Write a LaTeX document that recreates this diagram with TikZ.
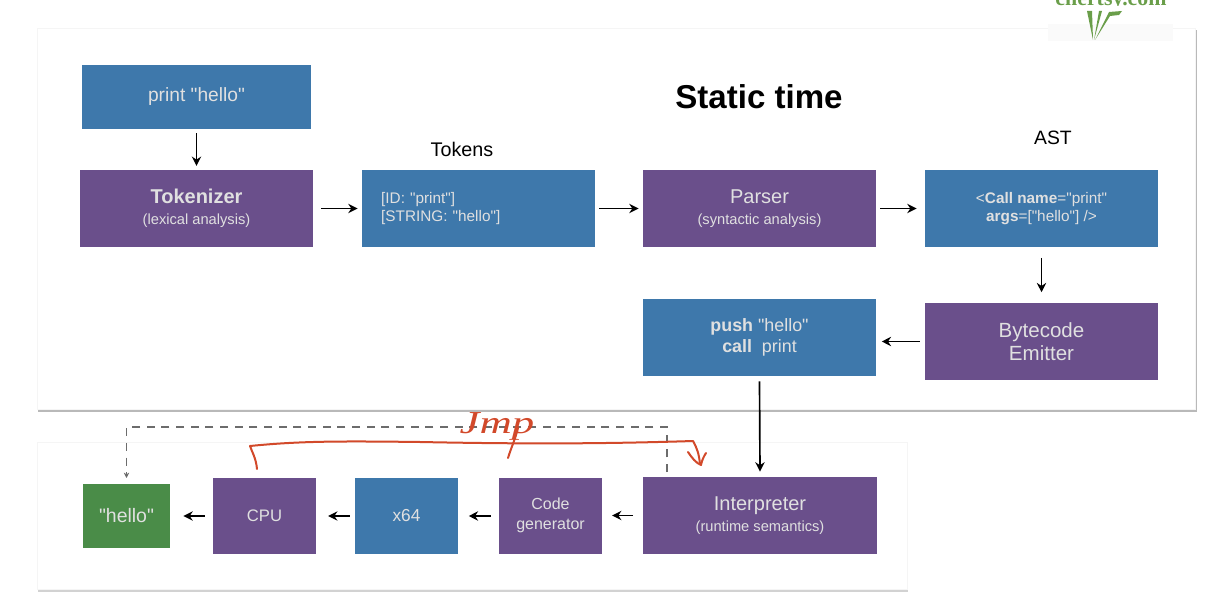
\documentclass[tikz,border=0pt]{standalone}
\usepackage{fontspec}
\setmainfont{Liberation Sans}
\usetikzlibrary{arrows.meta}
\definecolor{boxblue}{HTML}{3E78AB}
\definecolor{boxpurple}{HTML}{6A4F8B}
\definecolor{boxgreen}{HTML}{4A8C48}
\definecolor{jmpred}{HTML}{D2492A}
\definecolor{logogreen}{HTML}{6A9E4A}
\tikzstyle{box}=[inner sep=0pt,align=center,text=white!88!black]
\tikzstyle{widebox}=[box,minimum width=175pt,minimum height=57.5pt]
\tikzstyle{smallbox}=[box,minimum width=77pt,minimum height=57pt]
\tikzstyle{titled}=[font=\fontsize{15}{15.5}\selectfont]
\tikzstyle{listing}=[font=\fontsize{11.5}{13.5}\selectfont]
\tikzstyle{flow}=[-{Stealth[length=7pt,width=7pt]},line width=1.25pt,black]
\tikzstyle{dashback}=[-{Stealth[length=4pt,width=4pt]},line width=0.8pt,gray!85!black,dash pattern=on 6pt off 5pt]
\tikzstyle{pen}=[jmpred,line width=1.5pt,line cap=round,line join=round]
\newcommand{\subtext}[1]{{\fontsize{11}{13}\selectfont #1}}
\newcommand{\dq}{\XeTeXglyph\XeTeXcharglyph34\relax}

\begin{document}
\begin{tikzpicture}[x=0.75pt,y=-0.75pt]
    \useasboundingbox (0,0) rectangle (1211,610);

    % panels
    \fill[gray!55] (38,30) rectangle (1196.5,411.5);
    \fill[gray!35] (38,444) rectangle (908,591.5);
    \fill[white,draw=gray!8,line width=0.4pt] (37,28) rectangle (1195,409);
    \fill[white,draw=gray!8,line width=0.4pt] (37,442) rectangle (907,589);

    % logo
    \fill[gray!4] (1048,24) rectangle (1173,41);
    \begin{scope}
        \clip (1040,0) rectangle (1180,6);
        \node (logo) at (1111,0) {\textcolor{logogreen}{\fontspec{Liberation Serif}\bfseries\fontsize{16.4}{18}\selectfont chertsy.com}};
    \end{scope}
    \fill[logogreen] (1087,11) -- (1092,11) -- (1093,40) -- cycle;
    \fill[logogreen] (1094,40) -- (1099,11) -- (1102,11) -- cycle;
    \fill[logogreen] (1095,40) -- (1109,12) -- (1122,11) -- (1119,15) -- (1110,16) -- cycle;

    \node (title) at (759,97) {\bfseries\fontsize{24.8}{28}\selectfont Static time};
    \node (tokenslabel) at (462,149) {\fontsize{14.8}{17}\selectfont Tokens};
    \node (astlabel) at (1053,138) {\fontsize{14.5}{17}\selectfont AST};

    \node (source)[widebox,fill=boxblue,minimum width=171.75pt,minimum height=48pt,font=\fontsize{14.4}{17}\selectfont] at (196.5,97) {print \dq hello\dq};
    \node (tokenizer)[widebox,titled,fill=boxpurple] at (196.5,208.5) {\textbf{Tokenizer}\\ \subtext{(lexical analysis)}};
    \node (tokens)[widebox,listing,fill=boxblue,text width=146pt,align=left] at (478.5,208.5) {{[ID: \dq print\dq]}\\ {[STRING: \dq hello\dq]}};
    \node (parser)[widebox,titled,fill=boxpurple] at (759.5,208.5) {Parser\\ \subtext{(syntactic analysis)}};
    \node (ast)[widebox,listing,fill=boxblue] at (1041.5,208.5) {<\textbf{Call} \textbf{name}=\dq print\dq\\ \textbf{args}=[\dq hello\dq] />};
    \node (emitter)[widebox,fill=boxpurple,font=\fontsize{15.4}{17.5}\selectfont] at (1041.5,341.5) {Bytecode\\ Emitter};
    \node (bytecode)[widebox,fill=boxblue,font=\fontsize{13.4}{15.5}\selectfont] at (759.5,337.5) {\textbf{push} \dq hello\dq\\ \textbf{call}\ \ print};
    \node (interp)[widebox,titled,fill=boxpurple] at (760,515.5) {Interpreter\\ \subtext{(runtime semantics)}};
    \node (codegen)[smallbox,fill=boxpurple,font=\fontsize{12}{14.5}\selectfont] at (550.5,515.5) {Code\\ generator};
    \node (x64)[smallbox,fill=boxblue,font=\fontsize{13}{15}\selectfont] at (406.5,516) {x64};
    \node (cpu)[smallbox,fill=boxpurple,font=\fontsize{12.5}{15}\selectfont] at (264.5,516) {CPU};
    \node (hello)[box,fill=boxgreen,minimum width=65pt,minimum height=48pt,font=\fontsize{14.6}{17}\selectfont] at (126.5,516) {\dq hello\dq};

    \draw[flow] ([yshift=-3pt]source.south) -- ([yshift=3pt]tokenizer.north);
    \draw[flow] ([xshift=6pt]tokenizer.east) -- ([xshift=-3pt]tokens.west);
    \draw[flow] ([xshift=3pt]tokens.east) -- ([xshift=-3pt]parser.west);
    \draw[flow] ([xshift=3pt]parser.east) -- ([xshift=-6pt]ast.west);
    \draw[flow] ([yshift=-8pt]ast.south) -- ([yshift=8pt]emitter.north);
    \draw[flow] ([xshift=-3.5pt]emitter.west) -- ([xshift=4pt]emitter.west -| bytecode.east);
    \draw[flow] ([yshift=-4pt]bytecode.south) -- ([yshift=4pt]interp.north);
    \draw[flow] ([xshift=-7.5pt]interp.west) -- ([xshift=7.5pt]codegen.east);
    \draw[flow] ([xshift=-6pt]codegen.west |- x64.east) -- ([xshift=8pt]x64.east);
    \draw[flow] ([xshift=-4pt]x64.west) -- ([xshift=9pt]cpu.east);
    \draw[flow] ([xshift=-6pt]cpu.west) -- ([xshift=10pt]hello.east);

    % dashed return
    \coordinate (dashstart) at (667,472);
    \coordinate (dashend) at (126.5,478);
    \draw[dashback] (dashstart) -- (667,427) -- (126.5,427) -- (dashend);

    % handwriting
    \draw[pen] (257,469) .. controls (256,458) and (252,452) .. (250,446)
        .. controls (300,441) and (340,441) .. (420,442)
        .. controls (520,444) and (600,444) .. (693,441)
        .. controls (697,448) and (699,454) .. (700,464);
    \draw[pen] (688,452) .. controls (692,458) and (696,463) .. (701,465) .. controls (702,460) and (704,456) .. (706,453);
    \node (jmp)[xscale=1.4] at (497,426) {\textcolor{jmpred}{\fontspec{Liberation Serif}\itshape\fontsize{24}{26}\selectfont Jmp}};
    \draw[pen] (508,458) .. controls (511,448) and (515,440) .. (518,428);
\end{tikzpicture}
\end{document}
